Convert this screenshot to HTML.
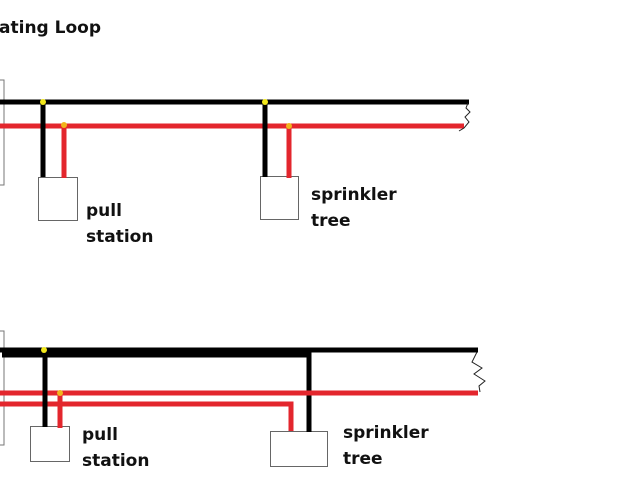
<!DOCTYPE html>
<html><head><meta charset="utf-8"><style>
html,body{margin:0;padding:0;background:#fff;width:640px;height:480px;overflow:hidden}
svg text{font-family:"DejaVu Sans","Liberation Sans",sans-serif;font-weight:bold;fill:#111}
</style></head><body>
<svg width="640" height="480" viewBox="0 0 640 480">
<text x="101" y="33" font-size="17" text-anchor="end">ating Loop</text>
<!-- top diagram -->
<rect x="-5" y="80" width="9" height="105" fill="none" stroke="#777" stroke-width="1"/>
<rect x="38.5" y="177.5" width="39" height="43" fill="#fff" stroke="#666" stroke-width="1"/>
<rect x="260.5" y="176.5" width="38" height="43" fill="#fff" stroke="#666" stroke-width="1"/>
<line x1="0" y1="102" x2="469" y2="102" stroke="#000" stroke-width="5"/>
<line x1="0" y1="126" x2="464" y2="126" stroke="#e3262d" stroke-width="5"/>
<line x1="43" y1="102" x2="43" y2="177" stroke="#000" stroke-width="5"/>
<line x1="64" y1="126" x2="64" y2="178" stroke="#e3262d" stroke-width="5"/>
<line x1="265" y1="102" x2="265" y2="177" stroke="#000" stroke-width="5"/>
<line x1="289" y1="126" x2="289" y2="178" stroke="#e3262d" stroke-width="5"/>
<polyline points="468,103 466,108 470,112 465,117 469,122 464,128 459,131" fill="none" stroke="#222" stroke-width="1"/>
<circle cx="43" cy="102" r="3" fill="#f2e81c"/>
<circle cx="64" cy="125" r="3" fill="#f2b41c"/>
<circle cx="265" cy="102" r="3" fill="#f2e81c"/>
<circle cx="289" cy="126" r="3" fill="#f2b41c"/>
<text x="86" y="216" font-size="17">pull</text>
<text x="86" y="242" font-size="17">station</text>
<text x="311" y="200" font-size="17">sprinkler</text>
<text x="311" y="226" font-size="17">tree</text>
<!-- bottom diagram -->
<rect x="-5" y="331" width="9" height="114" fill="none" stroke="#777" stroke-width="1"/>
<rect x="30.5" y="426.5" width="39" height="35" fill="#fff" stroke="#666" stroke-width="1"/>
<rect x="270.5" y="431.5" width="57" height="35" fill="#fff" stroke="#666" stroke-width="1"/>
<line x1="0" y1="350" x2="478" y2="350" stroke="#000" stroke-width="5"/>
<polyline points="2,355 309,355 309,432" fill="none" stroke="#000" stroke-width="5"/>
<line x1="0" y1="393" x2="478" y2="393" stroke="#e3262d" stroke-width="5"/>
<polyline points="0,404 291,404 291,431" fill="none" stroke="#e3262d" stroke-width="5"/>
<line x1="45" y1="350" x2="45" y2="427" stroke="#000" stroke-width="5"/>
<line x1="60" y1="393" x2="60" y2="428" stroke="#e3262d" stroke-width="5"/>
<polyline points="477,352 472,362 482,368 474,374 485,381 479,386 480,392" fill="none" stroke="#222" stroke-width="1"/>
<circle cx="44" cy="350" r="3" fill="#f2e81c"/>
<circle cx="60" cy="393" r="3" fill="#f2b41c"/>
<text x="82" y="440" font-size="17">pull</text>
<text x="82" y="466" font-size="17">station</text>
<text x="343" y="438" font-size="17">sprinkler</text>
<text x="343" y="464" font-size="17">tree</text>
</svg>
</body></html>
